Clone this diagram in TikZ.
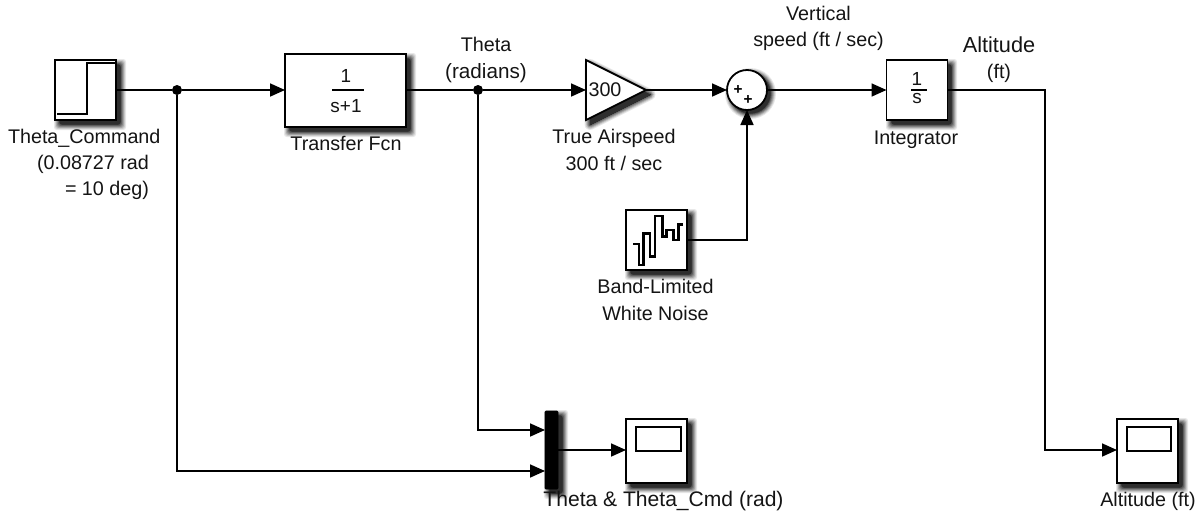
\documentclass[tikz,border=0pt]{standalone}
\usepackage{fontspec}
\setmainfont{Liberation Sans}
\usetikzlibrary{arrows.meta,shapes.geometric}
\newcommand\softrect[4]{%
  \foreach \halo/\tone in {5.5/9,4.5/20,3.5/34,2.5/48,1.5/62,0.5/74,0/82}{%
    \fill[black!\tone,rounded corners=2pt] ({#1+4.5-\halo},{#2+4.5-\halo}) rectangle ({#3+4.5+\halo},{#4+4.5+\halo});}}
\newcommand\softdisc[3]{%
  \foreach \halo/\tone in {5.5/9,4.5/20,3.5/34,2.5/48,1.5/62,0.5/74,0/82}{%
    \fill[black!\tone] ({#1+3.5},{#2+3.5}) circle [radius={#3+\halo}];}}
\newcommand\softwedge{%
  \foreach \halo/\tone in {5.5/9,4.5/20,3.5/34,2.5/48,1.5/62,0.5/74,0/82}{%
    \filldraw[black!\tone,line width={1.5*\halo*1pt},line join=round] (590,64.5) -- (650,94.5) -- (590,124.5) -- cycle;}}
\tikzset{
  blockbox/.style={draw=black,fill=white,line width=1.35pt,inner sep=0pt,outer sep=0pt},
  sumbox/.style={blockbox,circle,minimum size=30pt},
  stdbox/.style={blockbox,rectangle,minimum width=45.75pt,minimum height=45pt},
  scopebox/.style={blockbox,rectangle,minimum width=45.75pt,minimum height=48pt},
  tfbox/.style={blockbox,rectangle,minimum width=90.75pt,minimum height=54.75pt},
  muxbar/.style={draw=black,fill=black,line width=.6pt,inner sep=0pt,outer sep=0pt,rectangle,minimum width=9.75pt,minimum height=58.5pt,rounded corners=.8pt},
  gainbox/.style={blockbox,isosceles triangle,isosceles triangle stretches,shape border rotate=0,minimum width=45pt,minimum height=45pt},
  lbl/.style={inner sep=0pt,outer sep=0pt,font=\fontsize{14.8}{19.7}\selectfont,text=black!92},
  numtxt/.style={inner sep=0pt,outer sep=0pt,font=\fontsize{14.2}{17}\selectfont,text=black!92},
  plustxt/.style={inner sep=0pt,outer sep=0pt,font=\bfseries\fontsize{11.5}{12}\selectfont},
  wire/.style={draw=black,line width=1.3pt,line join=miter,-{Triangle[length=11.25pt,width=9.75pt]}},
  plainwire/.style={draw=black,line width=1.3pt},
  icon/.style={draw=black,line width=1.2pt,line join=miter},
  noiseicon/.style={draw=black,line width=1.9pt,line join=miter},
  tap/.style={circle,fill=black,inner sep=0pt,outer sep=0pt,minimum size=7.5pt},
}
\begin{document}
\begin{tikzpicture}[x=.75pt,y=-.75pt]
\useasboundingbox (0,0) rectangle (1200,511);
% shadows
\softrect{55}{60}{116}{120}
\softrect{285}{54}{406}{127}
\softwedge
\softdisc{747}{90}{20}
\softrect{887}{60}{947}{120}
\softrect{626}{210}{687}{270}
\softrect{545}{411}{558}{489}
\softrect{626}{419}{687}{483}
\softrect{1117}{419}{1178}{483}
% blocks
\node[stdbox] (step) at (85.5,90) {};
\node[tfbox] (tf) at (345.5,90.5) {};
\node[gainbox,anchor=lower side] (gain) at (586,90) {};
\node[sumbox] (sum) at (747,90) {};
\node[stdbox] (int) at (917,90) {};
\node[stdbox] (noise) at (656.5,240) {};
\node[muxbar] (mux) at (551.5,450) {};
\node[scopebox] (scope1) at (656.5,451) {};
\node[scopebox] (scope2) at (1147.5,451) {};
% junctions and bends
\node[tap] (j1) at (177,90) {};
\node[tap] (j2) at (478,90) {};
\coordinate (muxin1) at (mux.west |- 0,430);
\coordinate (muxin2) at (mux.west |- 0,471);
\coordinate (bend1) at (j2 |- muxin1);
\coordinate (bend2) at (j1 |- muxin2);
\coordinate (bend3) at (sum.south |- noise.east);
\coordinate (alt1) at (1045,90);
\coordinate (alt2) at (1045,450);
\coordinate (scope1in) at (scope1.west |- 0,450);
\coordinate (scope2in) at (scope2.west |- 0,450);
\coordinate (muxout) at (mux.east |- 0,450);
% connectors
\draw[plainwire] (step.east) -- (j1);
\draw[wire] (j1) -- (tf.west |- j1);
\draw[plainwire] (tf.east |- j2) -- (j2);
\draw[wire] (j2) -- (gain.lower side);
\draw[wire] (gain.apex) -- (sum.west);
\draw[wire] (sum.east) -- (int.west);
\draw[wire] (noise.east) -- (bend3) -- (sum.south);
\draw[wire] (j2) -- (bend1) -- (muxin1);
\draw[wire] (j1) -- (bend2) -- (muxin2);
\draw[wire] (muxout) -- (scope1in);
\draw[wire] (int.east) -- (alt1) -- (alt2) -- (scope2in);
% icons
\draw[icon] (57,114) -- (87,114) -- (87,63) -- (115,63);
\draw[noiseicon] (633.3,244) -- (639,244) -- (639,265) -- (643.3,265) -- (643.3,233.3) -- (650,233.3) -- (650,256.7) -- (655,256.7) -- (655,216) -- (662.7,216) -- (662.7,236.7) -- (666.7,236.7) -- (666.7,230) -- (673.3,230) -- (673.3,240) -- (678.3,240) -- (678.3,224.3) -- (683.3,224.3);
\draw[icon] (636,427) rectangle (681,451);
\draw[icon] (1127,427) rectangle (1171,451);
\draw[draw=black,line width=1pt] (332,90) -- (364,90);
\draw[draw=black,line width=1pt] (911,90) -- (927,90);
% block text
\node[numtxt] (tfnum) at (346,76) {1};
\node[numtxt] (tfden) at (346,106) {s+1};
\node[numtxt] (intnum) at (917,79) {1};
\node[numtxt] (intden) at (917,99) {s};
\node[lbl] (gaintxt) at (605,90) {300};
\node[plustxt] (p1) at (738,90) {+};
\node[plustxt] (p2) at (748,100) {+};
% labels
\node[lbl,align=left,anchor=north west] (lstep) at (8,129) {Theta\_Command\\\hspace*{21.75pt}(0.08727 rad\\\hspace*{42.75pt}= 10 deg)};
\node[lbl,align=center] (ltf) at (346,143) {Transfer Fcn};
\node[lbl,align=center] (ltheta) at (486,60) {Theta\\{\fontsize{15.5}{19.7}\selectfont (radians)}};
\node[lbl,align=center] (lgain) at (614,150) {True Airspeed\\300 ft / sec};
\node[lbl,align=center] (lvs) at (818.5,28.5) {Vertical\\speed (ft / sec)};
\node[lbl,align=center] (lalt) at (999,60) {{\fontsize{16.3}{19.7}\selectfont Altitude}\\(ft)};
\node[lbl] (lint) at (916,140) {Integrator};
\node[lbl,align=center] (lnoise) at (655.5,300) {Band-Limited\\White Noise};
\node[lbl,font=\fontsize{15.8}{19.7}\selectfont] (lsc1) at (663.5,501) {Theta \& Theta\_Cmd (rad)};
\node[lbl] (lsc2) at (1148,501) {Altitude (ft)};
\end{tikzpicture}
\end{document}
